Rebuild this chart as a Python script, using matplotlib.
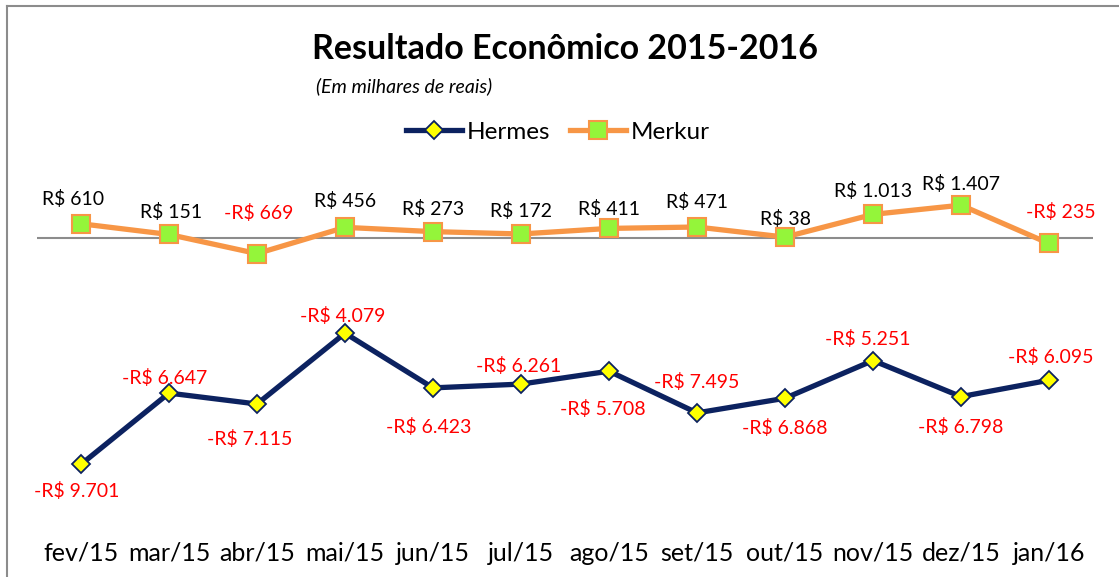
import matplotlib
matplotlib.use("Agg")
import matplotlib.pyplot as plt
from matplotlib.lines import Line2D

plt.rcParams["font.family"] = ["Lato", "DejaVu Sans"]

months = ["fev/15", "mar/15", "abr/15", "mai/15", "jun/15", "jul/15",
          "ago/15", "set/15", "out/15", "nov/15", "dez/15", "jan/16"]
hermes = [-9701, -6647, -7115, -4079, -6423, -6261,
          -5708, -7495, -6868, -5251, -6798, -6095]
merkur = [610, 151, -669, 456, 273, 172, 411, 471, 38, 1013, 1407, -235]

# label offsets in pixels (dx, dy)
hermes_off = [(-4, -27), (-4, 15), (-7, -35), (-2, 17), (-4, -39), (-2, 18),
              (-6, -38), (0, 31), (0, -30), (-5, 22), (0, -30), (2, 23)]
merkur_off = [(-8, 25), (2, 22), (2, 41), (0, 26), (0, 23), (0, 23),
              (0, 19), (0, 25), (0, 18), (0, 23), (0, 21), (12, 31)]


def fmt(v):
    s = f"R$ {abs(v):,}".replace(",", ".")
    return "-" + s if v < 0 else s


fig = plt.figure(figsize=(11.19, 5.77), dpi=100)
W, H = 1119, 577
ax = fig.add_axes([37 / W, 1 - 518 / H, (1093 - 37) / W, (518 - 175) / H])

x = list(range(len(months)))
ax.axhline(0, color="#8c8c8c", lw=1.5, zorder=1)
ax.plot(x, merkur, color="#F79646", lw=3.8, marker="s", ms=13.5,
        mfc="#94F53A", mec="#F79646", mew=1.5, label="Merkur", zorder=3)
ax.plot(x, hermes, color="#0C2260", lw=3.8, marker="D", ms=9.5,
        mfc="#FFFF00", mec="#0C2260", mew=1.3, label="Hermes", zorder=3)

for i, v in enumerate(merkur):
    dx, dy = merkur_off[i]
    ax.annotate(fmt(v), (i, v), xytext=(dx, dy), textcoords="offset pixels",
                ha="center", va="center", fontsize=14,
                color="red" if v < 0 else "black")
for i, v in enumerate(hermes):
    dx, dy = hermes_off[i]
    ax.annotate(fmt(v), (i, v), xytext=(dx, dy), textcoords="offset pixels",
                ha="center", va="center", fontsize=14, color="red")

ax.set_xlim(-0.5, len(months) - 0.5)
ax.set_ylim(-12000, 2700)
ax.set_xticks(x)
ax.set_xticklabels(months, fontsize=18)
ax.tick_params(axis="x", length=0, pad=17)
ax.set_yticks([])
for s in ax.spines.values():
    s.set_visible(False)

fig.text(565 / W, 1 - 49 / H, "Resultado Econômico 2015-2016", ha="center",
         va="center", fontsize=24.5, fontweight="bold")
fig.text(316 / W, 1 - 86 / H, "(Em milhares de reais)", ha="left",
         va="center", fontsize=14, style="italic")

handles, labels = ax.get_legend_handles_labels()
fig.legend(handles[::-1], labels[::-1], loc="center", ncol=2,
           bbox_to_anchor=(558 / W, 1 - 132 / H), frameon=False,
           fontsize=17.5, handlelength=2.3, handletextpad=0.2,
           columnspacing=0.8)

# outer border (only top and left visible in the crop)
fig.add_artist(Line2D([7 / W, 7 / W], [0, 1 - 6 / H], transform=fig.transFigure,
                      color="#8c8c8c", lw=1.5))
fig.add_artist(Line2D([7 / W, 1], [1 - 6 / H, 1 - 6 / H], transform=fig.transFigure,
                      color="#8c8c8c", lw=1.5))

fig.savefig("out.png", dpi=100)
